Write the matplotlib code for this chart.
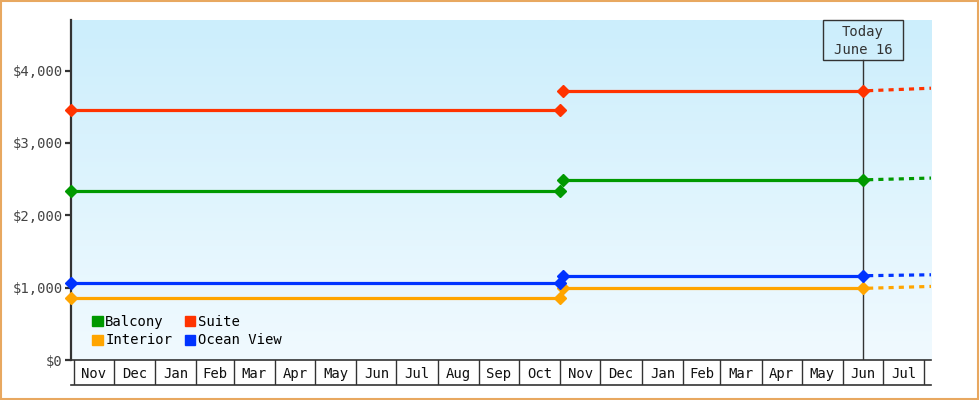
import numpy as np
import matplotlib
matplotlib.use("Agg")
import matplotlib.pyplot as plt
import matplotlib.dates as mdates
import matplotlib.patches as mpatches
import datetime as dt

plt.rcParams['font.family'] = ['DejaVu Sans Mono']

# ---- data ----
series_names = ["Balcony", "Interior", "Suite", "Ocean View"]
series_colors = ["#009900", "#ffa500", "#ff3300", "#0033ff"]
old_prices = [2335, 860, 3450, 1070]
new_prices = [2490, 990, 3720, 1165]
projected_prices = [2515, 1017, 3757, 1178]

old_dates = ["2024-10-30", "2025-11-01"]
new_dates = ["2025-11-03", "2026-06-16"]
proj_dates = ["2026-06-16", "2026-08-06"]
today_lines = ["Today", "June 16"]

month_starts = ["2024-11-01", "2024-12-01", "2025-01-01", "2025-02-01", "2025-03-01",
                "2025-04-01", "2025-05-01", "2025-06-01", "2025-07-01", "2025-08-01",
                "2025-09-01", "2025-10-01", "2025-11-01", "2025-12-01", "2026-01-01",
                "2026-02-01", "2026-03-01", "2026-04-01", "2026-05-01", "2026-06-01",
                "2026-07-01", "2026-08-01"]
month_labels = ["Nov", "Dec", "Jan", "Feb", "Mar", "Apr", "May", "Jun", "Jul", "Aug",
                "Sep", "Oct", "Nov", "Dec", "Jan", "Feb", "Mar", "Apr", "May", "Jun", "Jul"]

y_ticks = [0, 1000, 2000, 3000, 4000]
y_tick_labels = ["$0", "$1,000", "$2,000", "$3,000", "$4,000"]

def D(s):
    return dt.datetime.strptime(s, "%Y-%m-%d")

od = [D(s) for s in old_dates]
nd = [D(s) for s in new_dates]
pd_ = [D(s) for s in proj_dates]
ms = [D(s) for s in month_starts]
xmin, xmax = od[0], pd_[1]

W, H = 980, 400
fig = plt.figure(figsize=(W / 100, H / 100), dpi=100)
fig.patch.set_facecolor("white")

left, right, top, bottom = 71, 931, 20, 360
ax = fig.add_axes([left / W, 1 - bottom / H, (right - left) / W, (bottom - top) / H])
ax.set_xlim(xmin, xmax)
ax.set_ylim(0, 4700)

# gradient background
grad = np.linspace(0, 1, 256).reshape(-1, 1)
top_c = np.array([204, 238, 252]) / 255
bot_c = np.array([241, 250, 255]) / 255
img = top_c[None, None, :] * (1 - grad[:, :, None]) + bot_c[None, None, :] * grad[:, :, None]
ax.imshow(img, extent=[0, 1, 0, 1], transform=ax.transAxes, aspect="auto", zorder=0)
ax.set_facecolor("none")

for sp in ["top", "right"]:
    ax.spines[sp].set_visible(False)
ax.spines["left"].set_color("#333333")
ax.spines["left"].set_linewidth(1.6)
ax.spines["bottom"].set_color("#333333")
ax.spines["bottom"].set_linewidth(1.2)

ax.set_yticks(y_ticks)
ax.set_yticklabels(y_tick_labels, fontsize=10, color="#444444")
ax.tick_params(axis="y", length=4, width=1.6, color="#333333", pad=2)
ax.set_xticks([])

# today marker line and label box
today = nd[1]
box_top, box_bot = 20, 60
ax.axvline(today, ymin=0, ymax=1 - (box_bot - top) / (bottom - top),
           color="#333333", lw=1.0, zorder=2)
fig.canvas.draw()
xpix = ax.transData.transform((mdates.date2num(today), 0))[0]
fig.add_artist(mpatches.Rectangle(((xpix - 40) / fig.bbox.width, 1 - box_bot / H),
                                  80 / fig.bbox.width, (box_bot - box_top) / H,
                                  transform=fig.transFigure, fill=False, ec="#333333", lw=1.0))
fig.text(xpix / fig.bbox.width, 1 - 32 / H, today_lines[0], ha="center", va="center",
         fontsize=10, color="#333333")
fig.text(xpix / fig.bbox.width, 1 - 50 / H, today_lines[1], ha="center", va="center",
         fontsize=10, color="#333333")

handles = []
for name, col, o, n, p in zip(series_names, series_colors, old_prices, new_prices, projected_prices):
    ax.plot(od, [o, o], color=col, lw=2.3, marker="D", ms=6, zorder=4,
            solid_capstyle="butt", clip_on=False)
    ax.plot(nd, [n, n], color=col, lw=2.3, marker="D", ms=6, zorder=4,
            solid_capstyle="butt", clip_on=False)
    ax.plot(pd_, [n, p], color=col, lw=2.3, zorder=3, linestyle=(1.6, (1.6, 1.6)))
    handles.append(mpatches.Patch(color=col, label=name))

leg = ax.legend(handles=handles, loc="lower left", bbox_to_anchor=(0.01, 0.0), ncol=2,
                frameon=False, fontsize=10, handlelength=0.75, handleheight=0.75,
                handletextpad=0.2, columnspacing=0.9, labelspacing=0.35, borderpad=0.4)

# month label boxes
lax = fig.add_axes([left / W, 1 - 385 / H, (right - left) / W, 25 / H], sharex=ax)
lax.set_facecolor("none")
lax.set_ylim(0, 1)
for sp in ["top", "left", "right"]:
    lax.spines[sp].set_visible(False)
lax.spines["bottom"].set_color("#333333")
lax.spines["bottom"].set_linewidth(1.2)
lax.set_xticks([])
lax.set_yticks([])
for m in ms:
    lax.axvline(m, color="#333333", lw=1.0)
for a, b, lab in zip(ms[:-1], ms[1:], month_labels):
    mid = a + (b - a) / 2
    lax.text(mid, 0.45, lab, ha="center", va="center", fontsize=10, color="#111111")
lax.set_xlim(xmin, xmax)

# figure border
fig.add_artist(mpatches.Rectangle((0.001, 0.002), 0.997, 0.995, transform=fig.transFigure,
                                  fill=False, ec="#e8a860", lw=1.5))

fig.savefig("out.png", dpi=100)
